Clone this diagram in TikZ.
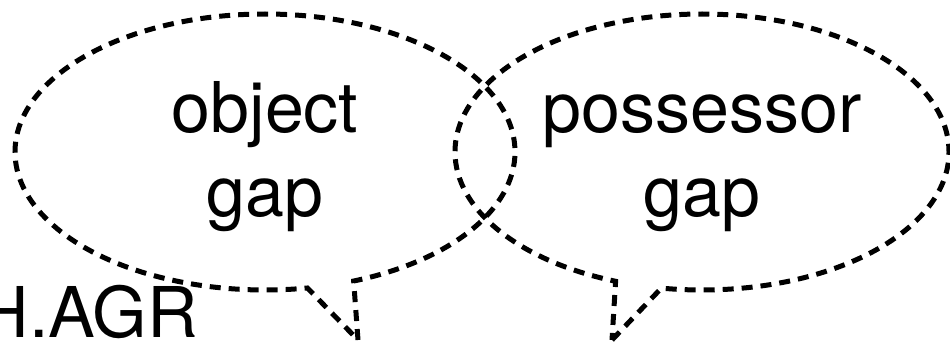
\documentclass[tikz,border=0pt]{standalone}
\usepackage{fontspec}
\setmainfont{TeX Gyre Heros}
\usetikzlibrary{shapes.callouts}

\begin{document}
\begin{tikzpicture}[x=1pt, y=-1pt,
    bubble/.style={draw, ellipse callout, callout pointer arc=11,
        line width=5pt, dash pattern=on 11pt off 8pt,
        align=center, inner sep=0pt, text height=145pt,
        font=\fontsize{70}{84}\selectfont, minimum height=276pt}]
    \useasboundingbox (0,0) rectangle (950,345);

    % Gloss
    \node[anchor=base east, inner sep=0pt, font=\fontsize{70}{84}\selectfont] (agr) at (198,337) {H.AGR};

    % Tips of the bubbles
    \coordinate (objtip) at (358,340);
    \coordinate (posstip) at (612,340);

    % Object gap
    \node[bubble, minimum width=500pt, callout absolute pointer={(objtip)}] (object) at (265,152) {object\\gap};

    % Possessor gap
    \node[bubble, minimum width=494pt, callout absolute pointer={(posstip)}] (possessor) at (702,152) {possessor\\gap};
\end{tikzpicture}
\end{document}
